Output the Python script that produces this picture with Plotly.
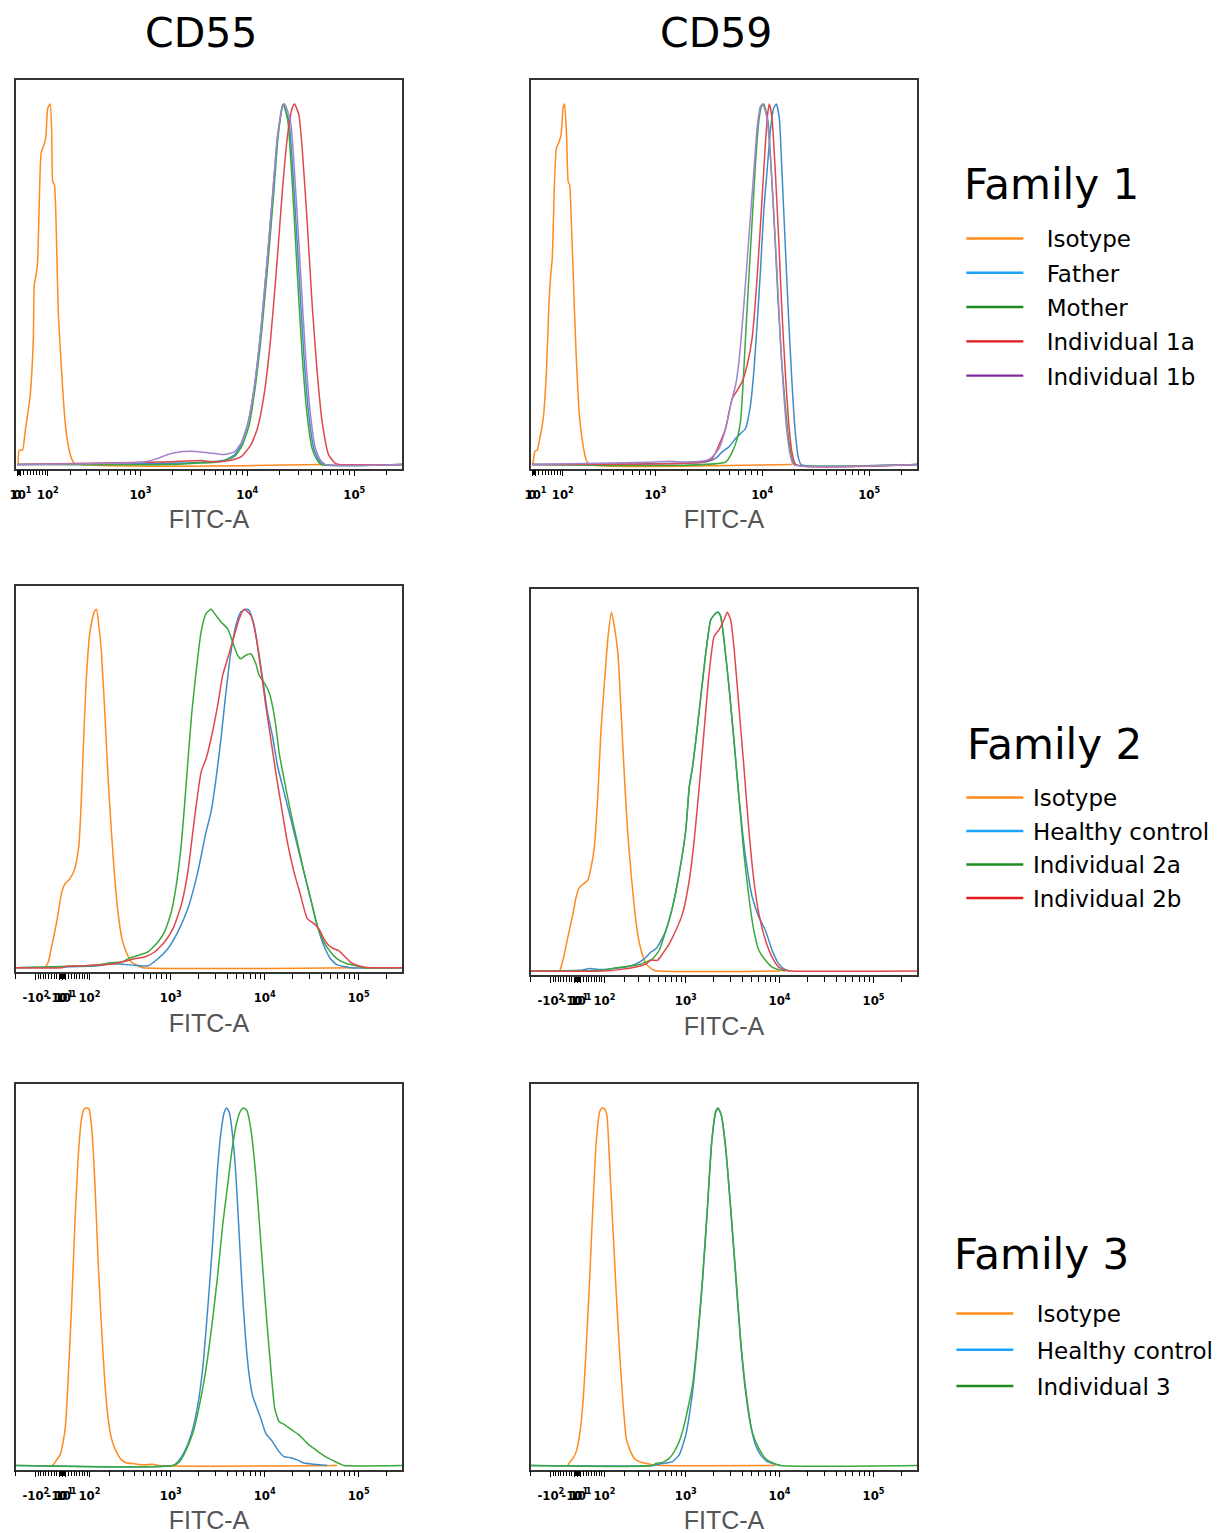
import numpy as np
import plotly.graph_objects as go

# ---------------------------------------------------------------------------
# Data: FITC-A intensity (x) and cell count as % of max (y)
# ---------------------------------------------------------------------------

# ---- Family 1, CD55 ----
f1_cd55_isotype_x = [2, 6, 16, 24, 40, 50, 53, 59, 64, 69, 76, 88, 93, 100, 109, 115, 119, 126, 136, 142, 157, 173, 190, 206, 222, 50000]
f1_cd55_isotype_y = [0, 4.0, 4.0, 9.1, 19.3, 35, 49.8, 52.6, 56.3, 70.2, 86.4, 89.2, 91, 98.9, 100, 92.4, 78.5, 77.6, 58.1, 42.4, 25.7, 11.9, 4.9, 1.7, 0.3, 0]
f1_cd55_father_x = [0, 1000, 3000, 6100, 7550, 8710, 10050, 11590, 13370, 15410, 17170, 19110, 21270, 21700, 24530, 27300, 30390, 33820, 37650, 41890, 46620, 51920, 280000]
f1_cd55_father_y = [0, 0.3, 0.5, 1.2, 2.6, 5.4, 10.9, 21.1, 36.9, 57.2, 73.9, 90.6, 99.3, 100, 95.2, 76.7, 53.5, 30.4, 13.7, 4.4, 1.2, 0, 0]
f1_cd55_mother_x = [0, 2000, 3700, 5280, 7040, 7830, 9030, 10410, 11840, 13650, 15750, 17540, 19380, 21270, 21860, 23990, 26520, 29310, 32620, 36300, 40460, 45010, 49050, 280000]
f1_cd55_mother_y = [0, 0, 0.4, 0.7, 1.7, 2.6, 5.4, 10.9, 21.1, 36.9, 57.2, 73.9, 90.6, 99.3, 100, 95.2, 76.7, 53.5, 30.4, 13.7, 4.4, 1.2, 0, 0]
f1_cd55_ind1a_x = [0, 1570, 2410, 3700, 4920, 7040, 8710, 10790, 12450, 14360, 16560, 19110, 21270, 23660, 26330, 27690, 30390, 32620, 36300, 40460, 45010, 50100, 57790, 66670, 71570, 280000]
f1_cd55_ind1a_y = [0, 0.7, 0.9, 1.1, 0.7, 1.2, 2.1, 5.4, 10, 19.3, 35, 57.2, 75.7, 90.6, 98.9, 100, 97, 87.8, 67.4, 44.3, 25.7, 11.9, 2.6, 0.3, 0, 0]
f1_cd55_ind1b_x = [0, 1090, 1460, 1810, 2090, 2990, 4270, 6100, 7550, 8710, 10050, 11590, 13370, 15410, 17170, 19110, 21270, 22350, 25400, 28270, 31500, 35050, 39030, 43420, 48320, 53780, 280000]
f1_cd55_ind1b_y = [0, 0.7, 1.7, 2.8, 3.3, 3.7, 3.3, 2.8, 3.5, 5.8, 10.9, 21.1, 36.9, 57.2, 73.9, 90.6, 99.3, 100, 95.2, 76.7, 53.5, 30.4, 13.7, 4.4, 1.2, 0, 0]

# ---- Family 1, CD59 ----
f1_cd59_isotype_x = [0, 3, 8, 15, 23, 34, 44, 52, 57, 63, 70, 77, 85, 94, 101, 107, 115, 121, 127, 134, 144, 155, 170, 188, 205, 224, 18960]
f1_cd59_isotype_y = [0, 0.7, 3.7, 4.0, 7.2, 12.8, 25.7, 44.3, 51.7, 57.2, 76.7, 87.8, 89.2, 91.5, 98.9, 100, 90.6, 78.5, 77.6, 67.4, 48.9, 30.4, 13.7, 5.4, 1.2, 0, 0]
f1_cd59_father_x = [0, 2960, 3670, 4230, 4890, 5640, 6270, 6980, 7770, 8350, 8960, 9620, 10340, 11100, 11910, 12810, 13560, 14460, 15300, 16430, 17660, 18960, 20360, 21860, 23150, 280000]
f1_cd59_father_y = [0, 0.7, 1.7, 3.5, 4.9, 7.2, 8.6, 10, 16.5, 25.7, 38.7, 53.5, 70.2, 81.3, 92.4, 98.9, 100, 96.1, 81.3, 60.9, 40.6, 23, 9.1, 1.7, 0, 0]
f1_cd59_mother_x = [0, 4550, 5250, 5840, 6270, 6590, 6980, 7500, 8050, 8650, 9290, 9830, 10340, 11340, 12180, 13080, 14040, 15300, 16430, 17660, 18960, 20360, 280000]
f1_cd59_mother_y = [0, 0.7, 3.5, 7.2, 11.9, 21.1, 35, 51.7, 67.4, 83.2, 95.2, 99.3, 100, 95.2, 81.3, 64.6, 46.1, 27.6, 16.5, 7.2, 1.7, 0, 0]
f1_cd59_ind1a_x = [0, 1670, 2760, 3420, 3940, 4550, 5250, 5840, 6500, 7240, 8050, 8960, 9980, 10710, 11340, 11670, 12350, 13260, 14250, 15300, 16430, 17660, 18960, 20650, 280000]
f1_cd59_ind1a_y = [0, 0.3, 0.7, 1.7, 5.4, 10, 18.3, 20.6, 23, 27.6, 35, 51.7, 73.9, 88.9, 98.1, 100, 96.1, 81.3, 62.8, 42.4, 25.7, 11.9, 3.5, 0, 0]
f1_cd59_ind1b_x = [0, 875, 1350, 1930, 2960, 3290, 3940, 4550, 5060, 5640, 6060, 6740, 7500, 8350, 8960, 9620, 10120, 11100, 11910, 12810, 13750, 14760, 15860, 17030, 18300, 19640, 280000]
f1_cd59_ind1b_y = [0, 0.6, 0.9, 0.7, 1.1, 1.7, 4.4, 10, 16.5, 22, 28.5, 44.3, 62.8, 81.3, 93.3, 99.3, 100, 96.1, 85.9, 70.2, 53.5, 35, 20.2, 9.1, 2.6, 0, 0]

# ---- Family 2, CD55 ----
f2_cd55_isotype_x = [-63, -51, -38, -21, -3, 8, 25, 43, 58, 68, 78, 87, 102, 121, 132, 143, 156, 174, 193, 213, 235, 257, 287, 322, 369, 439, 497, 96000]
f2_cd55_isotype_y = [0, 1.6, 6.2, 12.7, 21.1, 23.4, 24.8, 27.6, 34.1, 48.1, 66.7, 80.7, 93.7, 99.3, 100, 95.5, 88.1, 71.3, 52.7, 37.9, 24.8, 15.5, 8.1, 4.4, 1.6, 0.5, 0, 0]
f2_cd55_healthy_x = [-200, 124, 213, 402, 564, 726, 929, 1190, 1521, 1942, 2380, 2689, 3038, 3431, 3877, 4380, 4948, 5589, 6313, 6847, 7740, 8743, 9869, 10707, 12099, 13665, 16087, 18929, 22267, 26199, 30823, 36260, 42643, 50197, 59093, 75331, 81792, 290000]
f2_cd55_healthy_y = [0, 0.5, 1.1, 0.7, 0.5, 2.5, 5.3, 10, 16.5, 26.7, 37.9, 43.4, 52.7, 63.9, 76.9, 88.1, 95.5, 99.3, 100, 99.7, 95.5, 87.2, 77.9, 71.3, 64.8, 56.5, 49, 41.6, 34.1, 26.7, 19.3, 11.8, 6.2, 2.5, 0.8, 0.2, 0, 0]
f2_cd55_ind2a_x = [-200, 124, 213, 283, 352, 439, 564, 726, 856, 1010, 1143, 1291, 1402, 1521, 1678, 1864, 2107, 2380, 2689, 3038, 3431, 4038, 4563, 5154, 5589, 6313, 7132, 8061, 8743, 10286, 11152, 12099, 13126, 14233, 16087, 18929, 22267, 26199, 30823, 36260, 42643, 50197, 59093, 75331, 96134, 113174, 290000]
f2_cd55_ind2a_y = [0, 0.7, 1.4, 1.6, 2.7, 3.4, 4.4, 7.2, 10, 15.5, 23, 34.1, 45.3, 57.4, 71.3, 82.5, 93.7, 98.8, 100, 98.3, 96.5, 94.6, 90.9, 87.2, 86.2, 87.2, 87.6, 84.8, 81.6, 78.8, 76.9, 73.2, 67.6, 60.2, 52.7, 43.4, 35.1, 26.7, 19.3, 11.8, 7.2, 4.4, 2.5, 1.1, 0.5, 0, 0]
f2_cd55_ind2b_x = [-200, -3, 20, 68, 109, 156, 235, 310, 402, 520, 667, 856, 1054, 1291, 1521, 1791, 2107, 2380, 2689, 3164, 3575, 4038, 4750, 5366, 6062, 7132, 8061, 9103, 10286, 11621, 13126, 14817, 17446, 20540, 24147, 28414, 33427, 37737, 42643, 48181, 54436, 61507, 69488, 81792, 96134, 113174, 133196, 290000]
f2_cd55_ind2b_y = [0, 0, 0.5, 0.5, 0.7, 0.8, 1.1, 1.8, 2.5, 3.0, 4.4, 7.2, 10.9, 17.4, 26.7, 41.6, 54.6, 58.3, 63.9, 73.2, 81.6, 86.2, 92.7, 97.4, 100, 98.3, 92.7, 83.4, 73.2, 63.9, 54.6, 46.2, 35.1, 26.7, 20.2, 13.7, 12.3, 10.9, 8.1, 6.2, 5.3, 4.8, 3.4, 1.6, 0.7, 0.2, 0, 0]

# ---- Family 2, CD59 ----
f2_cd59_isotype_x = [-64, -52, -34, -16, -5, 7, 19, 36, 48, 60, 73, 86, 101, 116, 132, 146, 164, 182, 202, 222, 244, 267, 293, 321, 366, 434, 494, 10196]
f2_cd59_isotype_y = [0, 3.0, 9.5, 16, 20.7, 23.4, 24.2, 25.3, 29, 34.6, 48.6, 67.2, 81.1, 93.2, 100, 96, 88.6, 71.8, 53.2, 38.3, 27.2, 17.9, 10.4, 5.8, 2.0, 0.4, 0, 0]
f2_cd59_healthy_x = [-200, 7, 42, 80, 138, 212, 280, 349, 416, 473, 515, 609, 720, 849, 1000, 1090, 1183, 1283, 1449, 1637, 1850, 2090, 2212, 2361, 2560, 2892, 3266, 3691, 4345, 5109, 6014, 7079, 8321, 9798, 11516, 13014]
f2_cd59_healthy_y = [0, 0.2, 0.7, 0.4, 0.7, 1.1, 2.0, 3.4, 5.3, 6.2, 7.6, 11.3, 17.9, 27.2, 39.3, 51.3, 56.9, 64.4, 76.5, 88.6, 97.9, 99.7, 100, 98.8, 92.3, 79.3, 64.4, 48.6, 31.8, 20.7, 15.1, 11.3, 5.8, 2.0, 0.4, 0]
f2_cd59_ind2a_x = [-200, 93, 155, 212, 280, 366, 434, 515, 609, 720, 849, 1000, 1090, 1183, 1283, 1449, 1637, 1850, 2090, 2212, 2361, 2560, 2892, 3266, 3691, 4171, 4712, 5322, 6014, 7079, 8321, 9798, 11516]
f2_cd59_ind2a_y = [0, 0.2, 0.9, 1.3, 1.6, 2.5, 3.4, 5.8, 11.3, 17.9, 27.2, 39.3, 51.3, 56.9, 64.4, 76.5, 88.6, 97.9, 99.7, 100, 98.8, 92.3, 79.3, 64.4, 48.6, 32.7, 20.7, 11.3, 5.8, 3.0, 1.1, 0.4, 0]
f2_cd59_ind2b_x = [-200, 93, 173, 280, 366, 416, 494, 559, 662, 781, 922, 1090, 1232, 1392, 1573, 1777, 2006, 2266, 2560, 2778, 3013, 3266, 3691, 4171, 4712, 5322, 6014, 7079, 8321, 9798, 11516, 13014, 290000]
f2_cd59_ind2b_y = [0, 0, 0.4, 1.1, 2.0, 3.0, 3.0, 4.8, 7.6, 11.3, 16, 25.3, 36.5, 51.3, 67.2, 83, 93.2, 95.1, 97.9, 100, 97.9, 90.4, 73.7, 56.9, 39.3, 25.3, 16, 8.6, 3.9, 1.1, 0.2, 0, 0]

# ---- Family 3, CD55 ----
f3_cd55_isotype_x = [-40, -33, -21, -9, 2, 10, 20, 31, 43, 55, 68, 78, 87, 98, 109, 124, 139, 156, 174, 193, 213, 235, 257, 283, 322, 402, 520, 639, 726, 59090]
f3_cd55_isotype_y = [0, 0.2, 1.6, 3.0, 6.7, 11.3, 25.3, 43.9, 67.2, 85.8, 96.9, 99.7, 100, 99.7, 95.1, 79.3, 57.9, 39.3, 23.4, 13.2, 7.6, 4.8, 3.0, 1.6, 0.8, 0.5, 0.2, 0.4, 0, 0]
f3_cd55_healthy_x = [-200, 1054, 1190, 1402, 1650, 1942, 2193, 2480, 2802, 3112, 3431, 3721, 3939, 4205, 4563, 4948, 5366, 5822, 6313, 6847, 7425, 8061, 9103, 10286, 12099, 14233, 16087, 18929, 22267, 26199, 33427, 46292]
f3_cd55_healthy_y = [0, 0, 1.1, 3.9, 8.6, 16.9, 27.2, 43.9, 62.5, 81.1, 93.2, 98.8, 100, 98.8, 92.3, 81.1, 64.4, 47.6, 34.6, 25.3, 19.7, 16.9, 13.2, 9, 6.7, 3.9, 2.5, 2.2, 1.6, 0.7, 0.4, 0]
f3_cd55_ind3_x = [-200, 1054, 1242, 1461, 1718, 2024, 2380, 2802, 3164, 3575, 4038, 4563, 5154, 5589, 5966, 6468, 7132, 8061, 9103, 10286, 11621, 12808, 14233, 16087, 18929, 23189, 26199, 29607, 33427, 39320, 46292, 54436, 64078, 69488, 290000]
f3_cd55_ind3_y = [0, 0, 1.1, 4.4, 9, 16.9, 27.2, 41.1, 53.2, 67.2, 78.3, 89.5, 96.9, 99.3, 100, 99.3, 94.1, 81.1, 62.5, 43.9, 27.2, 16, 12.3, 11.5, 10.2, 8.6, 7.2, 5.8, 4.8, 3.4, 2.2, 1.3, 0.4, 0, 0]

# ---- Family 3, CD59 ----
f3_cd59_isotype_x = [-34, -30, -16, -5, 7, 19, 30, 42, 54, 67, 80, 86, 93, 101, 111, 122, 138, 155, 173, 192, 212, 232, 267, 307, 349, 434, 559, 9028]
f3_cd59_isotype_y = [0, 0.7, 2.0, 3.9, 8.6, 17.9, 32.7, 51.3, 71.8, 90.4, 98.8, 99.7, 100, 99.7, 97.9, 85.8, 67.2, 48.6, 31.8, 17.9, 7.6, 4.8, 2.0, 1.1, 0.7, 0.2, 0, 0]
f3_cd59_healthy_x = [-200, 434, 515, 609, 720, 849, 1000, 1183, 1336, 1509, 1705, 1896, 2090, 2212, 2398, 2668, 3013, 3404, 3843, 4345, 4909, 5543, 6264, 7365, 9028, 10196]
f3_cd59_healthy_y = [0, 0, 0.4, 0.7, 1.1, 3.0, 8.6, 20.7, 34.6, 51.3, 71.8, 90.4, 98.8, 100, 97.9, 88.6, 71.8, 53.2, 34.6, 20.7, 11.3, 5.8, 3.0, 1.1, 0.4, 0]
f3_cd59_ind3_x = [-200, 434, 473, 559, 662, 750, 849, 961, 1183, 1336, 1509, 1705, 1896, 2090, 2212, 2398, 2668, 3013, 3404, 3843, 4345, 5109, 6014, 7079, 8321, 10196, 290000]
f3_cd59_ind3_y = [0, 0, 0.6, 0.9, 2.0, 3.9, 6.7, 11.3, 22.5, 35.5, 52.2, 72.3, 90.9, 99, 100, 98, 89, 72.3, 54.1, 35.5, 21.6, 9.5, 4.8, 2.0, 0.8, 0, 0]

# Axis ticks (FITC-A intensity)
row1_major = [0, 10, 100, 1000, 10000, 100000]
row1_labels = ["0", "10<sup>1</sup>", "10<sup>2</sup>", "10<sup>3</sup>", "10<sup>4</sup>", "10<sup>5</sup>"]
row23_major = [-100, -10, 0, 10, 100, 1000, 10000, 100000]
row23_labels = ["-10<sup>2</sup>", "-10<sup>1</sup>", "0", "10<sup>1</sup>", "10<sup>2</sup>",
                "10<sup>3</sup>", "10<sup>4</sup>", "10<sup>5</sup>"]
pos_minor = [m * 10 ** e for e in range(0, 5) for m in range(2, 10)] + [1, 200000]
row1_minor = pos_minor
row23_minor = pos_minor + [-m * 10 ** e for e in range(0, 2) for m in range(1, 10)] + [-200]

# ---------------------------------------------------------------------------
# Biexponential (arcsinh) display scale used by the cytometer software
# ---------------------------------------------------------------------------
C = 142.0


def fitc(v):
    return np.arcsinh(np.asarray(v, dtype=float) / C)


LINE = {"Isotype": "#ff8a1f", "Father": "#3f8bc9", "Healthy control": "#3f8bc9",
        "Mother": "#3aa83a", "Individual 2a": "#3aa83a", "Individual 3": "#3aa83a",
        "Individual 1a": "#e0474c", "Individual 2b": "#e0474c", "Individual 1b": "#a383d0"}
KEY = {"Isotype": "#ff8c1a", "Father": "#1aa3ff", "Healthy control": "#1aa3ff",
       "Mother": "#1e8c1e", "Individual 2a": "#1e8c1e", "Individual 3": "#1e8c1e",
       "Individual 1a": "#e31a1c", "Individual 2b": "#e31a1c", "Individual 1b": "#7e2a9c"}

W, H = 1221, 1533
OX, OY = 12, 7   # page offset of the figure inside the browser page


def px(x):
    return (x - OX) / W


def py(y):
    return 1 - (y - OY) / H


def xdom(l, r):
    return [px(l), px(r)]


def ydom(t, b):
    return [py(b), py(t)]


f1 = ["Isotype", "Father", "Mother", "Individual 1a", "Individual 1b"]
f2 = ["Isotype", "Healthy control", "Individual 2a", "Individual 2b"]
f3 = ["Isotype", "Healthy control", "Individual 3"]

panels = [
    dict(n=1, xd=xdom(14, 402), yd=ydom(79.3, 467.5), row=1, names=f1,
         data=[(f1_cd55_isotype_x, f1_cd55_isotype_y), (f1_cd55_father_x, f1_cd55_father_y),
               (f1_cd55_mother_x, f1_cd55_mother_y), (f1_cd55_ind1a_x, f1_cd55_ind1a_y),
               (f1_cd55_ind1b_x, f1_cd55_ind1b_y)]),
    dict(n=2, xd=xdom(531.5, 919.5), yd=ydom(79.3, 467.5), row=1, names=f1,
         data=[(f1_cd59_isotype_x, f1_cd59_isotype_y), (f1_cd59_father_x, f1_cd59_father_y),
               (f1_cd59_mother_x, f1_cd59_mother_y), (f1_cd59_ind1a_x, f1_cd59_ind1a_y),
               (f1_cd59_ind1b_x, f1_cd59_ind1b_y)]),
    dict(n=3, xd=xdom(14, 402), yd=ydom(584.7, 970.7), row=2, names=f2,
         data=[(f2_cd55_isotype_x, f2_cd55_isotype_y), (f2_cd55_healthy_x, f2_cd55_healthy_y),
               (f2_cd55_ind2a_x, f2_cd55_ind2a_y), (f2_cd55_ind2b_x, f2_cd55_ind2b_y)]),
    dict(n=4, xd=xdom(531.5, 919.5), yd=ydom(587.5, 974), row=2, names=f2,
         data=[(f2_cd59_isotype_x, f2_cd59_isotype_y), (f2_cd59_healthy_x, f2_cd59_healthy_y),
               (f2_cd59_ind2a_x, f2_cd59_ind2a_y), (f2_cd59_ind2b_x, f2_cd59_ind2b_y)]),
    dict(n=5, xd=xdom(14, 402), yd=ydom(1083.3, 1468.5), row=3, names=f3,
         data=[(f3_cd55_isotype_x, f3_cd55_isotype_y), (f3_cd55_healthy_x, f3_cd55_healthy_y),
               (f3_cd55_ind3_x, f3_cd55_ind3_y)]),
    dict(n=6, xd=xdom(531.5, 919.5), yd=ydom(1083.3, 1468.5), row=3, names=f3,
         data=[(f3_cd59_isotype_x, f3_cd59_isotype_y), (f3_cd59_healthy_x, f3_cd59_healthy_y),
               (f3_cd59_ind3_x, f3_cd59_ind3_y)]),
]

fig = go.Figure()
layout = {}
TICKFONT = dict(size=13, family="Liberation Sans Narrow, DejaVu Sans Condensed, Liberation Sans",
                color="black", weight="bold")

for p in panels:
    n = p["n"]
    xa, ya = ("x", "y") if n == 1 else (f"x{n}", f"y{n}")
    for name, (xs, ys) in zip(p["names"], p["data"]):
        fig.add_trace(go.Scatter(
            x=fitc(xs), y=ys, mode="lines", name=name, showlegend=False,
            line=dict(color=LINE[name], width=1.5, shape="spline", smoothing=0.5),
            xaxis=xa, yaxis=ya, hoverinfo="skip"))
    if p["row"] == 1:
        xr, major, labels, minor = [-4, 280000], row1_major, row1_labels, row1_minor
    else:
        xr, major, labels, minor = [-200, 290000], row23_major, row23_labels, row23_minor
    kx = "xaxis" if n == 1 else f"xaxis{n}"
    ky = "yaxis" if n == 1 else f"yaxis{n}"
    layout[kx] = dict(
        domain=p["xd"], anchor=ya, range=list(fitc(xr)),
        tickmode="array", tickvals=list(fitc(major)), ticktext=labels, tickangle=0,
        ticks="outside", ticklen=6, tickwidth=1, tickcolor="black", tickfont=TICKFONT,
        ticklabelstandoff=7,
        minor=dict(tickmode="array", tickvals=list(fitc(minor)), ticks="outside",
                   ticklen=5, tickwidth=1, tickcolor="black", showgrid=False),
        showline=True, mirror=True, linecolor="#333333", linewidth=1.6,
        showgrid=False, zeroline=False, fixedrange=True,
        title=dict(text="FITC-A", standoff=10,
                   font=dict(size=25, color="#555555", family="Liberation Sans")),
    )
    layout[ky] = dict(
        domain=p["yd"], anchor=xa, range=[-1.1, 106.6],
        showticklabels=False, ticks="", showline=True, mirror=True,
        linecolor="#333333", linewidth=1.6, showgrid=False, zeroline=False, fixedrange=True,
    )

# Legend keys, one legend per family:
# (legend id, title, names, axes, key line x, title x, title y, first item y, gap, text pad)
legend_specs = [
    ("legend", "Family 1", f1, "x", "y", 967, 965, 183, 238, 1.4, "\u2002\u2009\u200a"),
    ("legend2", "Family 2", f2, "x3", "y3", 967, 968, 743, 797, 0.6, "\u2009"),
    ("legend3", "Family 3", f3, "x5", "y5", 957, 955, 1253, 1313, 3.4, "\u2002\u2009\u200a"),
]
annotations = []
for lg, title, names, xa, ya, lx, tx, ty, iy, gap, pad in legend_specs:
    for nm in names:
        fig.add_trace(go.Scatter(
            x=[None], y=[None], mode="lines", name=pad + nm, legend=lg,
            legendgroup=f"{lg}-{nm}", showlegend=True,
            line=dict(color=KEY[nm], width=2.4), xaxis=xa, yaxis=ya))
    layout[lg] = dict(
        font=dict(size=23, family="DejaVu Sans", color="black"),
        x=px(lx - 3), y=py(iy - 22), xanchor="left", yanchor="top",
        bgcolor="rgba(0,0,0,0)", borderwidth=0, itemwidth=57, tracegroupgap=gap,
        itemclick=False, itemdoubleclick=False,
    )
    annotations.append(dict(
        text=title, x=px(tx), y=py(ty), xref="paper", yref="paper", showarrow=False,
        xanchor="left", yanchor="middle",
        font=dict(size=42, family="DejaVu Sans", color="black")))

for txt, cx in [("CD55", 200), ("CD59", 717)]:
    annotations.append(dict(
        text=txt, x=px(cx), y=py(32), xref="paper", yref="paper",
        showarrow=False, xanchor="center", yanchor="middle",
        font=dict(size=41, family="DejaVu Sans", color="black")))

fig.update_layout(
    width=W, height=H, autosize=False,
    margin=dict(l=0, r=0, t=0, b=0),
    paper_bgcolor="white", plot_bgcolor="white",
    hovermode=False, annotations=annotations,
    **layout,
)

fig.write_html("out.html")
